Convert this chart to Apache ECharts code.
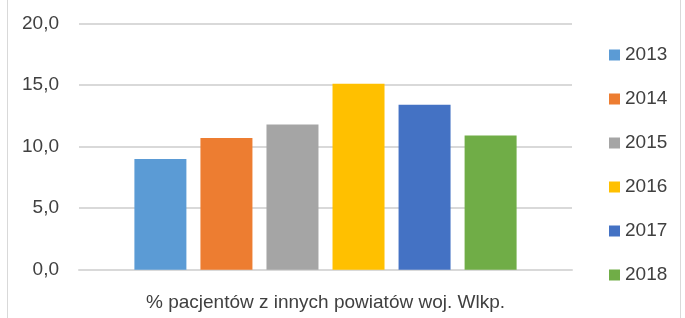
<!DOCTYPE html>
<html>
<head>
<meta charset="utf-8">
<script src="https://cdn.jsdelivr.net/npm/echarts@6/dist/echarts.min.js"></script>
<style>
  html, body { margin: 0; padding: 0; background: #fff; }
  #wrap { position: relative; width: 685px; height: 318px; overflow: hidden; }
  #frame { position: absolute; left: 7px; top: -2px; width: 674px; height: 330px; border: 1px solid #d9d9d9; box-sizing: border-box; }
  #chart { position: absolute; left: 0; top: 0; width: 685px; height: 318px; }
</style>
</head>
<body>
<div id="wrap">
  <div id="frame"></div>
  <div id="chart"></div>
</div>
<script>
// data
var category = ["% pacjentów z innych powiatów woj. Wlkp."];
var years = ["2013", "2014", "2015", "2016", "2017", "2018"];
var values = [9.0, 10.7, 11.8, 15.1, 13.4, 10.9];
var yTicks = [0, 5, 10, 15, 20];

var palette = ["#5b9bd5", "#ed7d31", "#a5a5a5", "#ffc000", "#4472c4", "#70ad47"];
var font = "'Liberation Sans Narrow', 'Liberation Sans', sans-serif";

var myChart = echarts.init(document.getElementById("chart"), null, { renderer: "canvas" });

var series = years.map(function (y, i) {
  return {
    name: y,
    type: "bar",
    data: [values[i]],
    barWidth: 52,
    barGap: "27%",
    itemStyle: { color: palette[i] }
  };
});

myChart.setOption({
  animation: false,
  textStyle: { fontFamily: font },
  grid: { left: 79, right: 113, top: 23.5, bottom: 48.3, containLabel: false },
  legend: {
    orient: "vertical",
    left: 609,
    top: 44,
    padding: 0,
    itemWidth: 11,
    itemHeight: 11,
    itemGap: 22,
    icon: "rect",
    textStyle: { fontFamily: font, fontSize: 19, color: "#404040", lineHeight: 22 },
    data: years
  },
  xAxis: {
    type: "category",
    data: category,
    axisLine: { show: true, lineStyle: { color: "#d9d9d9", width: 2 } },
    axisTick: { show: false },
    axisLabel: { fontFamily: font, fontSize: 19, color: "#404040", margin: 24 }
  },
  yAxis: {
    type: "value",
    min: yTicks[0],
    max: yTicks[yTicks.length - 1],
    interval: 5,
    axisLine: { show: false },
    axisTick: { show: false },
    splitLine: { lineStyle: { color: "#d9d9d9", width: 2 } },
    axisLabel: {
      fontFamily: font,
      fontSize: 19,
      color: "#404040",
      margin: 20,
      formatter: function (v) { return v.toFixed(1).replace(".", ","); }
    }
  },
  series: series
});

window.addEventListener("resize", function () { myChart && myChart.resize(); });
</script>
</body>
</html>
